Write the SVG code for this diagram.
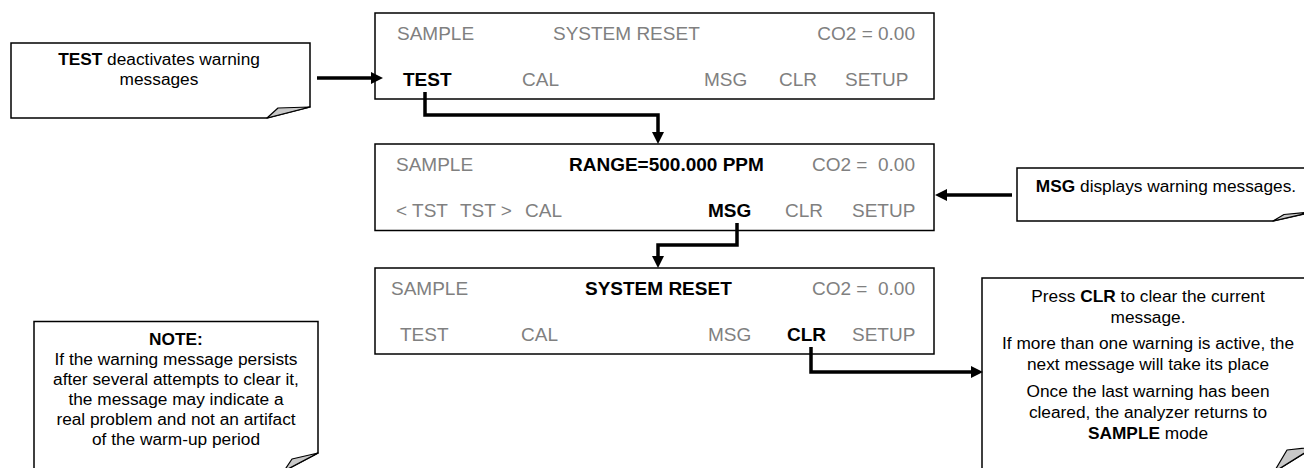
<svg xmlns="http://www.w3.org/2000/svg" width="1304" height="468" viewBox="0 0 1304 468">
<style>
.box{fill:#fff;stroke:#000;stroke-width:1.5}
.fold{fill:#c8c8c8;stroke:#000;stroke-width:1.2;stroke-linejoin:round}
.d{font-family:"Liberation Sans",Arial,sans-serif;font-size:19px;fill:#808080}
.db{font-weight:bold;fill:#000}
.c{font-family:"Liberation Sans",Arial,sans-serif;font-size:17.3px;fill:#000;text-anchor:middle}
.b{font-weight:bold}
.conn{fill:none;stroke:#000;stroke-width:3.5;stroke-linejoin:miter;marker-end:url(#ah)}
</style>
<defs>
<marker id="ah" markerUnits="userSpaceOnUse" markerWidth="14" markerHeight="14" refX="2" refY="6" orient="auto">
<path d="M0,0 L12,6 L0,12 z" fill="#000"/>
</marker>
</defs>
<rect width="1304" height="468" fill="#fff"/>

<g id="callout-test">
<path class="box" d="M11,43 H310 V107 L267,118 H11 Z"/>
<path class="fold" d="M267,118 L278,108 L310,107 Z"/>
<text class="c" x="159" y="65"><tspan class="b">TEST</tspan> deactivates warning</text>
<text class="c" x="159" y="85">messages</text>
</g>

<g id="display-1">
<rect class="box" x="375" y="13" width="559" height="86"/>
<text class="d" x="397" y="40">SAMPLE</text>
<text class="d" x="553" y="40">SYSTEM RESET</text>
<text class="d" x="915" y="40" text-anchor="end">CO2 = 0.00</text>
<text class="d db" x="403" y="86">TEST</text>
<text class="d" x="522" y="86">CAL</text>
<text class="d" x="704" y="86">MSG</text>
<text class="d" x="779" y="86">CLR</text>
<text class="d" x="845" y="86">SETUP</text>
</g>

<g id="display-2">
<rect class="box" x="375" y="144" width="559" height="86.5"/>
<text class="d" x="396" y="171">SAMPLE</text>
<text class="d db" x="569" y="171">RANGE=500.000 PPM</text>
<text class="d" x="812" y="171">CO2 =</text>
<text class="d" x="915" y="171" text-anchor="end">0.00</text>
<text class="d" x="396" y="217">&lt; TST</text>
<text class="d" x="460" y="217">TST &gt;</text>
<text class="d" x="525" y="217">CAL</text>
<text class="d db" x="708" y="217">MSG</text>
<text class="d" x="785" y="217">CLR</text>
<text class="d" x="852" y="217">SETUP</text>
</g>

<g id="display-3">
<rect class="box" x="375" y="268" width="559" height="86"/>
<text class="d" x="391" y="295">SAMPLE</text>
<text class="d db" x="585" y="295">SYSTEM RESET</text>
<text class="d" x="812" y="295">CO2 =</text>
<text class="d" x="915" y="295" text-anchor="end">0.00</text>
<text class="d" x="400" y="341">TEST</text>
<text class="d" x="521" y="341">CAL</text>
<text class="d" x="708" y="341">MSG</text>
<text class="d db" x="787" y="341">CLR</text>
<text class="d" x="852" y="341">SETUP</text>
</g>

<g id="callout-msg">
<path class="box" d="M1017,168 H1315 V211.5 L1273,221 H1017 Z"/>
<path class="fold" d="M1273,221 L1284,214.5 L1315,211.5 Z"/>
<text class="c" x="1166" y="192"><tspan class="b">MSG</tspan> displays warning messages.</text>
</g>

<g id="callout-clr">
<path class="box" d="M982,278 H1314 V447 L1274,472 H982 Z"/>
<path class="fold" d="M1274,472 L1287,450 L1314,447 Z"/>
<text class="c" x="1148" y="302">Press <tspan class="b">CLR</tspan> to clear the current</text>
<text class="c" x="1148" y="322.5">message.</text>
<text class="c" x="1148" y="349">If more than one warning is active, the</text>
<text class="c" x="1148" y="369.5">next message will take its place</text>
<text class="c" x="1148" y="396.5">Once the last warning has been</text>
<text class="c" x="1148" y="417.5">cleared, the analyzer returns to</text>
<text class="c" x="1148" y="438.5"><tspan class="b">SAMPLE</tspan> mode</text>
</g>

<g id="note">
<path class="box" d="M34,321.5 H318 V453 L284,471 H34 Z"/>
<path class="fold" d="M284,471 L292,459 L318,453 Z"/>
<text class="c b" x="176" y="345">NOTE:</text>
<text class="c" x="176" y="365">If the warning message persists</text>
<text class="c" x="176" y="385">after several attempts to clear it,</text>
<text class="c" x="176" y="405">the message may indicate a</text>
<text class="c" x="176" y="425">real problem and not an artifact</text>
<text class="c" x="176" y="445">of the warm-up period</text>
</g>

<g id="connectors">
<path class="conn" d="M317,78 H373"/>
<path class="conn" d="M425,92 V115 H658 V134"/>
<path class="conn" d="M1012,195 H945"/>
<path class="conn" d="M737,223 V245 H658 V258"/>
<path class="conn" d="M811,347 V372 H973"/>
</g>
</svg>
